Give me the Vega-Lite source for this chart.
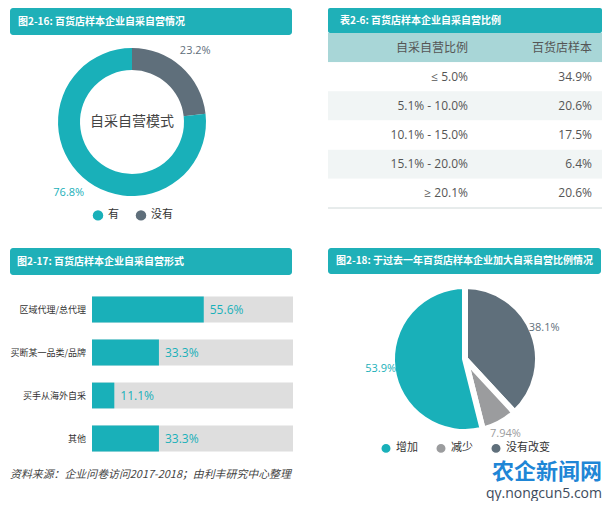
{
  "$schema": "https://vega.github.io/schema/vega-lite/v6.json",
  "padding": {"left": 10, "top": 8, "right": 0, "bottom": 0},
  "autosize": {"type": "pad"},
  "background": "white",
  "spacing": 27,
  "resolve": {"scale": {"color": "independent"}, "legend": {"color": "independent"}},
  "config": {
    "font": "Open Sans, Noto Sans CJK SC",
    "view": {"stroke": null},
    "legend": {"layout": {"anchor": "middle"}}
  },
  "vconcat": [
    {
      "hconcat": [
        {
          "spacing": 0,
          "resolve": {"scale": {"color": "independent"}, "legend": {"color": "independent"}},
          "vconcat": [
            {
              "width": 282, "height": 27,
              "view": {"fill": "#1fb0b8", "stroke": null, "cornerRadius": 3},
              "data": {"values": [{"t": "图2-16: 百货店样本企业自采自营情况"}]},
              "mark": {"type": "text", "align": "left", "dx": 8, "fontWeight": "bold", "fontSize": 10, "color": "white", "font": "Noto Sans CJK SC"},
              "encoding": {
                "text": {"field": "t"},
                "x": {"datum": 0, "type": "quantitative", "scale": {"domain": [0, 1]}, "axis": null}
              }
            },
            {
              "width": 244, "height": 174,
              "data": {"values": [
                {"cat": "没有", "share": 0.232, "rank": 1},
                {"cat": "有", "share": 0.768, "rank": 2}
              ]},
              "layer": [
                {
                  "mark": {"type": "arc", "innerRadius": 52, "outerRadius": 74},
                  "encoding": {
                    "theta": {"field": "share", "type": "quantitative", "stack": true},
                    "order": {"field": "rank"},
                    "color": {
                      "field": "cat", "type": "nominal",
                      "scale": {"domain": ["有", "没有"], "range": ["#19b0b9", "#5f6f7b"]},
                      "legend": {"orient": "bottom", "direction": "horizontal", "title": null, "symbolType": "circle", "symbolSize": 110, "labelFont": "Noto Sans CJK SC", "labelFontSize": 11, "labelColor": "#333", "columnPadding": 16, "offset": 0}
                    }
                  }
                },
                {
                  "mark": {"type": "text", "radius": 95, "fontSize": 11},
                  "encoding": {
                    "theta": {"field": "share", "type": "quantitative", "stack": true},
                    "order": {"field": "rank"},
                    "color": {"field": "cat", "type": "nominal"},
                    "text": {"field": "share", "format": ".1%"}
                  }
                },
                {
                  "data": {"values": [{"t": "自采自营模式"}]},
                  "mark": {"type": "text", "fontSize": 14, "color": "#444", "font": "Noto Sans CJK SC"},
                  "encoding": {"text": {"field": "t"}}
                }
              ]
            }
          ]
        },
        {
          "spacing": 0,
          "resolve": {"scale": {"color": "independent"}, "legend": {"color": "independent"}},
          "vconcat": [
            {
              "width": 274, "height": 25,
              "view": {"fill": "#1fb0b8", "stroke": null, "cornerRadius": 2},
              "data": {"values": [{"t": "表2-6: 百货店样本企业自采自营比例"}]},
              "mark": {"type": "text", "align": "left", "dx": 12, "fontWeight": "bold", "fontSize": 10, "color": "white", "font": "Noto Sans CJK SC"},
              "encoding": {
                "text": {"field": "t"},
                "x": {"datum": 0, "type": "quantitative", "scale": {"domain": [0, 1]}, "axis": null}
              }
            },
            {
              "width": 274, "height": 175,
              "data": {"values": [
                {"range": "自采自营比例", "share": "百货店样本"},
                {"range": "≤ 5.0%", "share": "34.9%"},
                {"range": "5.1% - 10.0%", "share": "20.6%"},
                {"range": "10.1% - 15.0%", "share": "17.5%"},
                {"range": "15.1% - 20.0%", "share": "6.4%"},
                {"range": "≥ 20.1%", "share": "20.6%"}
              ]},
              "encoding": {
                "y": {"field": "range", "type": "nominal", "sort": null, "axis": null, "scale": {"paddingInner": 0, "paddingOuter": 0}}
              },
              "layer": [
                {
                  "mark": {"type": "rect"},
                  "encoding": {
                    "color": {
                      "field": "range", "type": "nominal", "legend": null,
                      "scale": {
                        "domain": ["自采自营比例", "≤ 5.0%", "5.1% - 10.0%", "10.1% - 15.0%", "15.1% - 20.0%", "≥ 20.1%"],
                        "range": ["#a8d6d7", "#ffffff", "#f1f5f5", "#ffffff", "#f1f5f5", "#ffffff"]
                      }
                    }
                  }
                },
                {
                  "mark": {"type": "text", "align": "right", "fontSize": 12, "color": "#555"},
                  "encoding": {
                    "x": {"datum": "c1", "type": "ordinal", "scale": {"type": "point", "domain": ["c1", "c2"], "range": [140, 264], "padding": 0}, "axis": null},
                    "text": {"field": "range"}
                  }
                },
                {
                  "mark": {"type": "text", "align": "right", "fontSize": 12, "color": "#555"},
                  "encoding": {
                    "x": {"datum": "c2", "type": "ordinal"},
                    "text": {"field": "share"}
                  }
                },
                {
                  "data": {"values": [{}]},
                  "mark": {"type": "rule", "color": "#cfd8d8", "strokeWidth": 1},
                  "encoding": {"y": {"datum": "≥ 20.1%", "type": "nominal", "bandPosition": 1}}
                }
              ]
            }
          ]
        }
      ],
      "spacing": 35,
      "resolve": {"scale": {"color": "independent"}, "legend": {"color": "independent"}}
    },
    {
      "hconcat": [
        {
          "spacing": 13,
          "resolve": {"scale": {"color": "independent"}, "legend": {"color": "independent"}},
          "vconcat": [
            {
              "width": 282, "height": 27,
              "view": {"fill": "#1fb0b8", "stroke": null, "cornerRadius": 3},
              "data": {"values": [{"t": "图2-17: 百货店样本企业自采自营形式"}]},
              "mark": {"type": "text", "align": "left", "dx": 7, "fontWeight": "bold", "fontSize": 10, "color": "white", "font": "Noto Sans CJK SC"},
              "encoding": {
                "text": {"field": "t"},
                "x": {"datum": 0, "type": "quantitative", "scale": {"domain": [0, 1]}, "axis": null}
              }
            },
            {
              "width": 283, "height": 172,
              "title": {"text": "资料来源：企业问卷访问2017-2018；由利丰研究中心整理", "orient": "bottom", "anchor": "start", "frame": "bounds", "font": "Noto Sans CJK SC", "fontStyle": "italic", "fontSize": 10.9, "fontWeight": "normal", "color": "#444", "offset": 9},
              "data": {"values": [
                {"form": "区域代理/总代理", "pct": 0.556},
                {"form": "买断某一品类/品牌", "pct": 0.333},
                {"form": "买手从海外自采", "pct": 0.111},
                {"form": "其他", "pct": 0.333}
              ]},
              "encoding": {
                "y": {"field": "form", "type": "nominal", "sort": null, "axis": null,
                  "scale": {"paddingInner": 0.4, "paddingOuter": 0.2}}
              },
              "layer": [
                {
                  "mark": {"type": "bar", "color": "#dedede"},
                  "encoding": {"x": {"datum": 1, "type": "quantitative", "scale": {"domain": [0, 1], "range": [82, 283]}, "axis": null}}
                },
                {
                  "mark": {"type": "bar", "color": "#19b0b9"},
                  "encoding": {"x": {"field": "pct", "type": "quantitative"}}
                },
                {
                  "mark": {"type": "text", "align": "left", "dx": 6, "fontSize": 12, "color": "#19b0b9"},
                  "encoding": {
                    "x": {"field": "pct", "type": "quantitative"},
                    "text": {"field": "pct", "format": ".1%"}
                  }
                },
                {
                  "mark": {"type": "text", "align": "right", "dx": -6, "fontSize": 9, "color": "#333", "font": "Noto Sans CJK SC"},
                  "encoding": {
                    "x": {"datum": 0, "type": "quantitative"},
                    "text": {"field": "form"}
                  }
                }
              ]
            }
          ]
        },
        {
          "spacing": 0,
          "resolve": {"scale": {"color": "independent"}, "legend": {"color": "independent"}},
          "vconcat": [
            {
              "width": 273, "height": 26,
              "view": {"fill": "#1fb0b8", "stroke": null, "cornerRadius": 3},
              "data": {"values": [{"t": "图2-18: 于过去一年百货店样本企业加大自采自营比例情况"}]},
              "mark": {"type": "text", "align": "right", "dx": -8, "fontWeight": "bold", "fontSize": 10, "color": "white", "font": "Noto Sans CJK SC"},
              "encoding": {
                "text": {"field": "t"},
                "x": {"datum": 1, "type": "quantitative", "scale": {"domain": [0, 1]}, "axis": null}
              }
            },
            {
              "width": 274, "height": 168,
              "title": {"text": "农企新闻网", "subtitle": "qy.nongcun5.com", "orient": "bottom", "anchor": "end", "frame": "bounds", "font": "Noto Sans CJK SC", "fontSize": 22, "fontWeight": "bold", "color": "#1f86d6", "subtitleFont": "Open Sans", "subtitleFontSize": 14, "subtitleColor": "#3d4b5c", "subtitlePadding": 3, "offset": 5},
              "data": {"values": [
                {"change": "没有改变", "share": 0.381, "rank": 1},
                {"change": "减少", "share": 0.0794, "rank": 2},
                {"change": "增加", "share": 0.539, "rank": 3}
              ]},
              "layer": [
                {
                  "mark": {"type": "arc", "outerRadius": 73, "stroke": "white", "strokeWidth": 6},
                  "encoding": {
                    "theta": {"field": "share", "type": "quantitative", "stack": true},
                    "order": {"field": "rank"},
                    "color": {
                      "field": "change", "type": "nominal",
                      "scale": {"domain": ["增加", "减少", "没有改变"], "range": ["#19b0b9", "#9b9c9e", "#5f6f7b"]},
                      "legend": {"orient": "bottom", "direction": "horizontal", "title": null, "symbolType": "circle", "symbolSize": 110, "labelFont": "Noto Sans CJK SC", "labelFontSize": 11, "labelColor": "#333", "columnPadding": 14, "offset": -1}
                    }
                  }
                },
                {
                  "mark": {"type": "text", "radius": 85, "fontSize": 11},
                  "encoding": {
                    "theta": {"field": "share", "type": "quantitative", "stack": true},
                    "order": {"field": "rank"},
                    "color": {"field": "change", "type": "nominal"},
                    "text": {"field": "share", "format": ".3~%"}
                  }
                }
              ]
            }
          ]
        }
      ],
      "spacing": 35,
      "resolve": {"scale": {"color": "independent"}, "legend": {"color": "independent"}}
    }
  ]
}
